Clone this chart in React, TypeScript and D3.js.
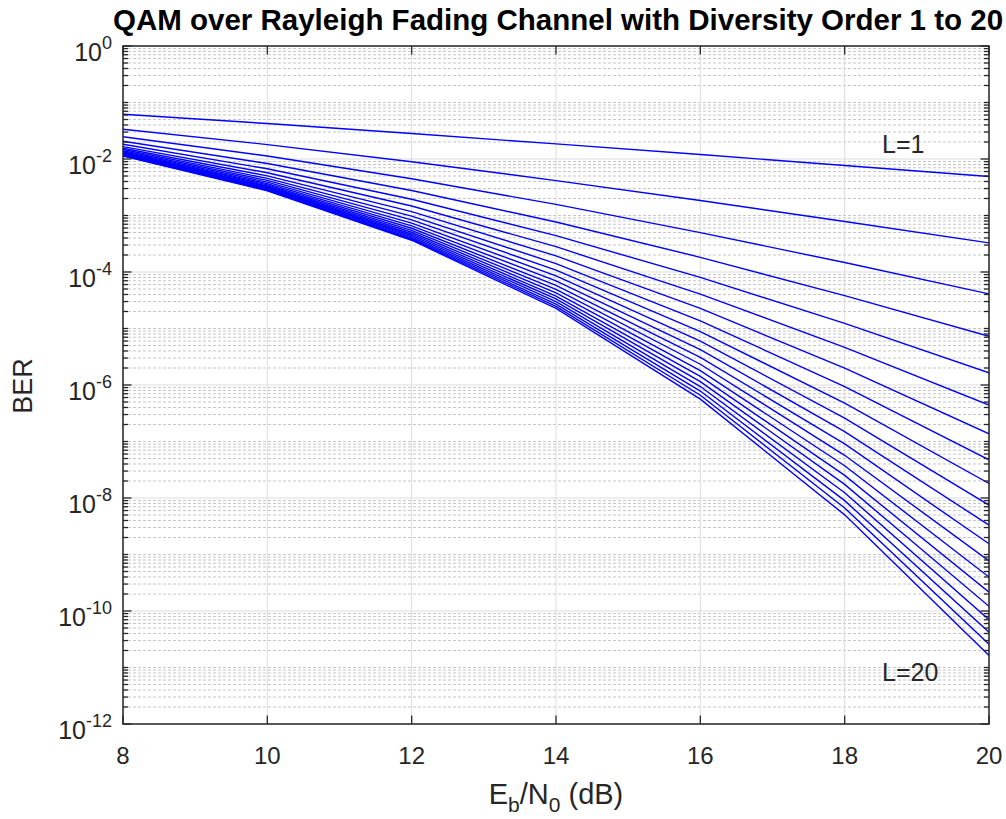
import React from "react";
import * as d3 from "d3";

// Eb/N0 points (dB)
const ebNoDb = [8, 10, 12, 14, 16, 18, 20];

// Diversity orders L = 1 .. 20
const diversityOrders = [1, 2, 3, 4, 5, 6, 7, 8, 9, 10, 11, 12, 13, 14, 15, 16, 17, 18, 19, 20];

// BER read for each diversity order at each Eb/N0 point
const berL01 = [6.2e-2, 4.24e-2, 2.83e-2, 1.85e-2, 1.2e-2, 7.67e-3, 4.89e-3];
const berL02 = [3.36e-2, 1.8e-2, 8.94e-3, 4.15e-3, 1.84e-3, 7.84e-4, 3.27e-4];
const berL03 = [2.48e-2, 1.13e-2, 4.48e-3, 1.57e-3, 4.98e-4, 1.47e-4, 4.09e-5];
const berL04 = [2.06e-2, 8.33e-3, 2.77e-3, 7.68e-4, 1.82e-4, 3.81e-5, 7.27e-6];
const berL05 = [1.82e-2, 6.71e-3, 1.94e-3, 4.4e-4, 8.04e-5, 1.23e-5, 1.64e-6];
const berL06 = [1.66e-2, 5.71e-3, 1.47e-3, 2.81e-4, 4.06e-5, 4.65e-6, 4.42e-7];
const berL07 = [1.55e-2, 5.03e-3, 1.17e-3, 1.93e-4, 2.27e-5, 1.99e-6, 1.37e-7];
const berL08 = [1.47e-2, 4.54e-3, 9.77e-4, 1.41e-4, 1.37e-5, 9.36e-7, 4.75e-8];
const berL09 = [1.4e-2, 4.18e-3, 8.38e-4, 1.08e-4, 8.84e-6, 4.77e-7, 1.81e-8];
const berL10 = [1.35e-2, 3.89e-3, 7.35e-4, 8.54e-5, 5.99e-6, 2.6e-7, 7.48e-9];
const berL11 = [1.31e-2, 3.67e-3, 6.56e-4, 6.96e-5, 4.23e-6, 1.5e-7, 3.31e-9];
const berL12 = [1.28e-2, 3.49e-3, 5.94e-4, 5.8e-5, 3.09e-6, 9.05e-8, 1.55e-9];
const berL13 = [1.25e-2, 3.33e-3, 5.45e-4, 4.94e-5, 2.33e-6, 5.7e-8, 7.69e-10];
const berL14 = [1.23e-2, 3.21e-3, 5.05e-4, 4.27e-5, 1.8e-6, 3.72e-8, 3.99e-10];
const berL15 = [1.21e-2, 3.1e-3, 4.71e-4, 3.75e-5, 1.42e-6, 2.51e-8, 2.16e-10];
const berL16 = [1.19e-2, 3.0e-3, 4.43e-4, 3.33e-5, 1.15e-6, 1.74e-8, 1.21e-10];
const berL17 = [1.17e-2, 2.92e-3, 4.19e-4, 2.99e-5, 9.39e-7, 1.24e-8, 7.03e-11];
const berL18 = [1.16e-2, 2.85e-3, 3.98e-4, 2.7e-5, 7.81e-7, 8.98e-9, 4.2e-11];
const berL19 = [1.15e-2, 2.79e-3, 3.8e-4, 2.47e-5, 6.58e-7, 6.66e-9, 2.59e-11];
const berL20 = [1.13e-2, 2.73e-3, 3.65e-4, 2.27e-5, 5.62e-7, 5.03e-9, 1.63e-11];

const berSeries = [
  berL01, berL02, berL03, berL04, berL05, berL06, berL07, berL08, berL09, berL10,
  berL11, berL12, berL13, berL14, berL15, berL16, berL17, berL18, berL19, berL20,
];

// Axis ticks
const xTickValues = [8, 10, 12, 14, 16, 18, 20];
const yTickExponents = [0, -2, -4, -6, -8, -10, -12];

const titleText = "QAM over Rayleigh Fading Channel with Diversity Order 1 to 20";

const W = 1006;
const H = 819;
const M = { left: 123, right: 989, top: 46, bottom: 724 };

const AXIS = "#262626";
const FONT = "'Liberation Sans', Arial, Helvetica, sans-serif";

export default function App() {
  const x = d3.scaleLinear().domain([8, 20]).range([M.left, M.right]);
  const y = d3.scaleLog().domain([1e-12, 1]).range([M.bottom, M.top]);

  const line = d3
    .line<number>()
    .x((_, i) => x(ebNoDb[i]))
    .y((d) => y(d));

  // minor y values: all m*10^k that are not labelled ticks
  const minorY: number[] = [];
  for (let k = -12; k < 0; k++) {
    for (let m = 1; m <= 9; m++) {
      if (m === 1 && yTickExponents.includes(k)) continue;
      minorY.push(m * Math.pow(10, k));
    }
  }

  const majorTick = 8.5;
  const minorTick = 5;

  return (
    <svg
      width={W}
      height={H}
      style={{ position: "absolute", left: 0, top: 0, background: "#fff" }}
      fontFamily={FONT}
    >
      <rect x={0} y={0} width={W} height={H} fill="#fff" />
      <defs>
        <clipPath id="plotClip">
          <rect x={M.left} y={M.top} width={M.right - M.left} height={M.bottom - M.top} />
        </clipPath>
      </defs>

      {/* minor grid */}
      <g stroke="#c6c6c6" strokeWidth={1} strokeDasharray="3 2">
        {minorY.map((v, i) => (
          <line key={i} x1={M.left} x2={M.right} y1={y(v)} y2={y(v)} />
        ))}
      </g>
      {/* major grid */}
      <g stroke="#dcdcdc" strokeWidth={1}>
        {yTickExponents.map((e) => (
          <line key={"gy" + e} x1={M.left} x2={M.right} y1={y(Math.pow(10, e))} y2={y(Math.pow(10, e))} />
        ))}
        {xTickValues.map((v) => (
          <line key={"gx" + v} x1={x(v)} x2={x(v)} y1={M.top} y2={M.bottom} />
        ))}
      </g>

      {/* curves */}
      <g clipPath="url(#plotClip)" fill="none" stroke="#0000ff" strokeWidth={1.4}>
        {berSeries.map((s, i) => (
          <path key={diversityOrders[i]} d={line(s) || ""} />
        ))}
      </g>

      {/* axis box */}
      <rect
        x={M.left}
        y={M.top}
        width={M.right - M.left}
        height={M.bottom - M.top}
        fill="none"
        stroke={AXIS}
        strokeWidth={1.5}
      />

      {/* ticks */}
      <g stroke={AXIS} strokeWidth={1.3}>
        {xTickValues.map((v) => (
          <g key={"tx" + v}>
            <line x1={x(v)} x2={x(v)} y1={M.bottom} y2={M.bottom - majorTick} />
            <line x1={x(v)} x2={x(v)} y1={M.top} y2={M.top + majorTick} />
          </g>
        ))}
        {yTickExponents.map((e) => (
          <g key={"ty" + e}>
            <line x1={M.left} x2={M.left + majorTick} y1={y(Math.pow(10, e))} y2={y(Math.pow(10, e))} />
            <line x1={M.right} x2={M.right - majorTick} y1={y(Math.pow(10, e))} y2={y(Math.pow(10, e))} />
          </g>
        ))}
        {minorY.map((v, i) => (
          <g key={"my" + i}>
            <line x1={M.left} x2={M.left + minorTick} y1={y(v)} y2={y(v)} />
            <line x1={M.right} x2={M.right - minorTick} y1={y(v)} y2={y(v)} />
          </g>
        ))}
      </g>

      {/* x tick labels */}
      <g fill={AXIS} fontSize={24} textAnchor="middle">
        {xTickValues.map((v) => (
          <text key={"lx" + v} x={x(v)} y={M.bottom + 40}>
            {v}
          </text>
        ))}
      </g>

      {/* y tick labels */}
      <g fill={AXIS}>
        {yTickExponents.map((e) => (
          <text key={"ly" + e} x={112} y={y(Math.pow(10, e)) + 15} textAnchor="end" fontSize={25}>
            <tspan>10</tspan>
            <tspan fontSize={18} dy={-12}>
              {String(e)}
            </tspan>
          </text>
        ))}
      </g>

      {/* axis labels */}
      <text x={556} y={804} textAnchor="middle" fontSize={29} fill={AXIS}>
        <tspan>E</tspan>
        <tspan fontSize={21} dy={8}>b</tspan>
        <tspan dy={-8}>/N</tspan>
        <tspan fontSize={21} dy={8}>0</tspan>
        <tspan dy={-8}> (dB)</tspan>
      </text>
      <text
        transform={`translate(32,386) rotate(-90)`}
        textAnchor="middle"
        fontSize={27}
        fill={AXIS}
      >
        BER
      </text>

      {/* title */}
      <text x={558} y={30} textAnchor="middle" fontSize={29.5} fontWeight="bold" fill="#000">
        {titleText}
      </text>

      {/* annotations */}
      <text x={882} y={153} fontSize={25} fill={AXIS}>
        {"L=" + diversityOrders[0]}
      </text>
      <text x={882} y={681} fontSize={25} fill={AXIS}>
        {"L=" + diversityOrders[diversityOrders.length - 1]}
      </text>
    </svg>
  );
}
